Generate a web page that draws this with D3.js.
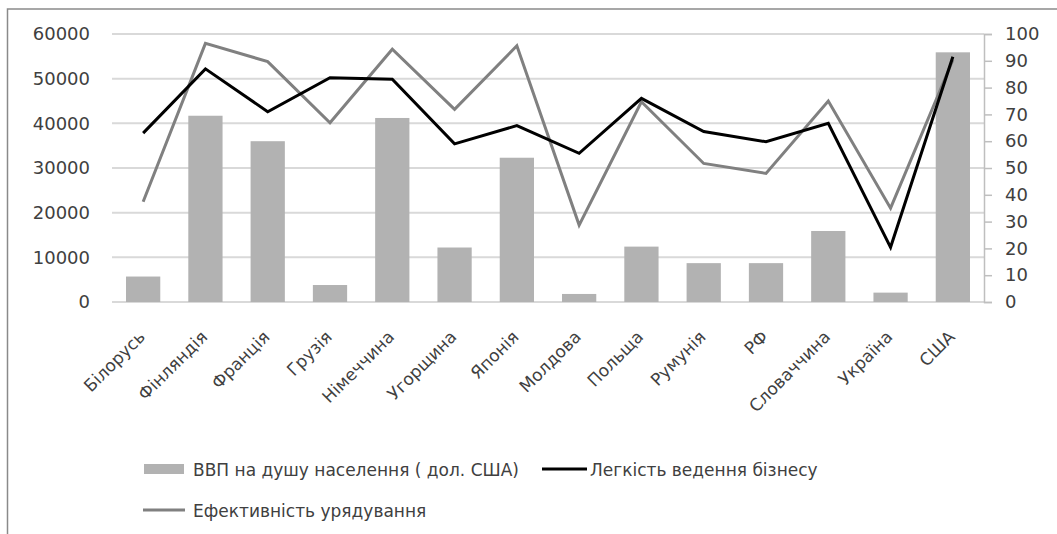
<!DOCTYPE html>
<html><head><meta charset="utf-8">
<script src="https://cdnjs.cloudflare.com/ajax/libs/d3/7.8.5/d3.min.js"></script>
<style>body{margin:0;background:#fff}svg{display:block}</style>
</head><body>
<svg id="c" width="1057" height="534"></svg>
<script>
const categories = ["Білорусь","Фінляндія","Франція","Грузія","Німеччина","Угорщина","Японія","Молдова","Польща","Румунія","РФ","Словаччина","Україна","США"];
const gdp = [5700,41700,36000,3800,41200,12200,32300,1800,12400,8700,8700,15900,2100,55900];
const easeBusiness = [63,87,71,83.7,83.1,59,65.8,55.5,76,63.6,59.8,66.7,20.4,91.5];
const govEffect = [37.4,96.5,89.7,66.9,94.3,71.9,95.6,28.7,74.7,51.7,48,75,35,90.3];
const leftTicks = [0,10000,20000,30000,40000,50000,60000];
const rightTicks = [0,10,20,30,40,50,60,70,80,90,100];
const legendLabels = ["ВВП на душу населення ( дол. США)","Легкість ведення бізнесу","Ефективність урядування"];

const svg = d3.select("#c");
const font = "DejaVu Sans";
const txt = "#404040";
const x0 = 112, x1 = 984, yTop = 34, yBot = 302;

svg.append("path").attr("d","M7.5,540V9H1065").attr("fill","none").attr("stroke","#8a8a8a").attr("stroke-width",1.5);

const x = d3.scaleBand().domain(categories).range([x0,x1]).paddingInner(0.45).paddingOuter(0.225);
const xc = d3.scaleBand().domain(categories).range([x0,x1]);
const yL = d3.scaleLinear().domain([0,60000]).range([yBot,yTop]);
const yR = d3.scaleLinear().domain([0,100]).range([yBot,yTop]);

// gridlines
svg.append("g").selectAll("line").data(leftTicks).join("line")
  .attr("x1",x0).attr("x2",x1).attr("y1",d=>yL(d)).attr("y2",d=>yL(d))
  .attr("stroke","#d9d9d9").attr("stroke-width",2);

// left axis
const gl = svg.append("g").attr("transform",`translate(${x0},0)`)
  .call(d3.axisLeft(yL).tickValues(leftTicks).tickSize(0).tickPadding(22).tickFormat(d3.format("d")));
gl.select(".domain").remove();
gl.selectAll("text").attr("font-family",font).attr("font-size",18).attr("fill",txt);

// right axis
const gr = svg.append("g").attr("transform",`translate(${x1},0)`)
  .call(d3.axisRight(yR).tickValues(rightTicks).tickSize(8).tickPadding(13).tickFormat(d3.format("d")));
gr.select(".domain").attr("stroke","#bfbfbf").attr("stroke-width",1.5);
gr.selectAll(".tick line").attr("stroke","#bfbfbf").attr("stroke-width",1.5);
gr.selectAll("text").attr("font-family",font).attr("font-size",18).attr("fill",txt);

// bars
svg.append("g").selectAll("rect").data(gdp).join("rect")
  .attr("x",(d,i)=>x(categories[i])).attr("width",x.bandwidth())
  .attr("y",d=>yL(d)).attr("height",d=>yBot-yL(d)).attr("fill","#b2b2b2");

// lines
const cx = i => xc(categories[i]) + xc.bandwidth()/2;
const line = d3.line().x((d,i)=>cx(i)).y(d=>yR(d));
svg.append("path").datum(govEffect).attr("d",line).attr("fill","none").attr("stroke","#808080").attr("stroke-width",3).attr("stroke-linejoin","miter");
svg.append("path").datum(easeBusiness).attr("d",line).attr("fill","none").attr("stroke","#000").attr("stroke-width",3).attr("stroke-linejoin","miter");

// x labels
svg.append("g").selectAll("text").data(categories).join("text")
  .attr("transform",(d,i)=>`translate(${cx(i)+3},338) rotate(-45)`)
  .attr("text-anchor","end").attr("font-family",font).attr("font-size",17).attr("fill",txt)
  .text(d=>d);

// legend
const lg = svg.append("g").attr("font-family",font).attr("font-size",17).attr("fill",txt);
lg.append("rect").attr("x",144).attr("y",464).attr("width",40).attr("height",10).attr("fill","#b2b2b2");
lg.append("text").attr("x",193).attr("y",476).attr("fill",txt).text(legendLabels[0]);
lg.append("line").attr("x1",542).attr("x2",587).attr("y1",469).attr("y2",469).attr("stroke","#000").attr("stroke-width",3);
lg.append("text").attr("x",590).attr("y",476).attr("fill",txt).text(legendLabels[1]);
lg.append("line").attr("x1",143).attr("x2",185).attr("y1",510).attr("y2",510).attr("stroke","#808080").attr("stroke-width",3);
lg.append("text").attr("x",193).attr("y",517).attr("fill",txt).text(legendLabels[2]);
</script>
</body></html>
